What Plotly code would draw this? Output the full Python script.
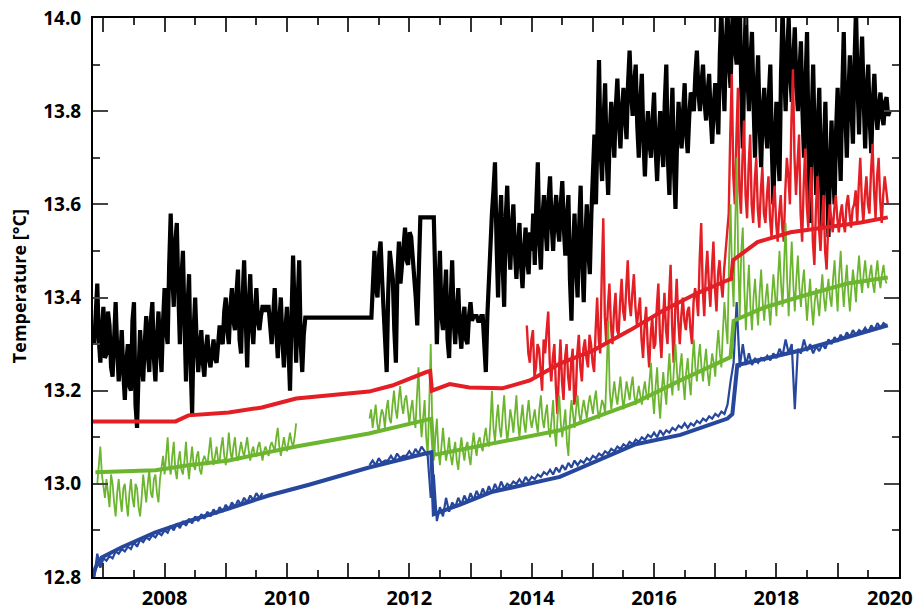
import plotly.graph_objects as go

# ---- raw records: (start year, step in years, values) ----
black_raw = [
    (2006.85, 0.025, [
        13.30, 13.36, 13.43, 13.31, 13.26, 13.33, 13.38, 13.27, 13.28, 13.37, 13.34, 13.25, 13.23, 13.31, 13.39, 13.29, 13.22, 13.27, 13.33, 13.24,
        13.18, 13.26, 13.30, 13.21, 13.20, 13.35, 13.39, 13.17, 13.12, 13.24, 13.33, 13.26, 13.22, 13.30, 13.36, 13.28, 13.24, 13.35, 13.39, 13.27,
        13.22, 13.31, 13.37, 13.29, 13.24, 13.35, 13.42, 13.33, 13.30, 13.47, 13.58, 13.45, 13.38, 13.52, 13.56, 13.41, 13.30, 13.44, 13.50, 13.35,
        13.22, 13.38, 13.45, 13.26, 13.15, 13.33, 13.40, 13.30, 13.24, 13.29, 13.33, 13.26, 13.23, 13.29, 13.32, 13.27, 13.25, 13.28, 13.31, 13.27,
        13.26, 13.30, 13.34, 13.31, 13.30, 13.37, 13.40, 13.33, 13.30, 13.38, 13.42, 13.35, 13.33, 13.41, 13.46, 13.31, 13.28, 13.40, 13.48, 13.36,
        13.25, 13.38, 13.45, 13.34, 13.30, 13.37, 13.42, 13.35, 13.33, 13.36, 13.38, 13.38, 13.37, 13.38, 13.38, 13.34, 13.30, 13.36, 13.42, 13.33,
        13.27, 13.35, 13.40, 13.31, 13.25, 13.33, 13.38, 13.29, 13.20, 13.36, 13.49, 13.37, 13.26, 13.39, 13.48, 13.30, 13.24, 13.32, 13.357]),
    (2011.38, 0.025, [
        13.357, 13.45, 13.50, 13.42, 13.40, 13.49, 13.52, 13.44, 13.38, 13.30, 13.24, 13.41, 13.50, 13.47, 13.44, 13.33, 13.26, 13.45, 13.52, 13.43,
        13.46, 13.51, 13.55, 13.48, 13.47, 13.54, 13.53, 13.49, 13.46, 13.40, 13.34, 13.45, 13.572]),
    (2012.40, 0.025, [
        13.572, 13.44, 13.30, 13.41, 13.50, 13.36, 13.33, 13.40, 13.46, 13.31, 13.27, 13.39, 13.48, 13.35, 13.30, 13.37, 13.42, 13.33, 13.29, 13.35,
        13.38, 13.31, 13.30, 13.36, 13.39, 13.35, 13.36, 13.36, 13.36, 13.35, 13.35, 13.36, 13.36, 13.30, 13.24, 13.36, 13.45, 13.52, 13.58, 13.63,
        13.69, 13.52, 13.40, 13.55, 13.62, 13.47, 13.38, 13.57, 13.64, 13.52, 13.46, 13.55, 13.60, 13.50, 13.44, 13.51, 13.56, 13.47, 13.42, 13.50,
        13.55, 13.48, 13.45, 13.54, 13.50, 13.58, 13.47, 13.60, 13.69, 13.52, 13.46, 13.57, 13.62, 13.55, 13.50, 13.61, 13.66, 13.56, 13.50, 13.58,
        13.62, 13.55, 13.52, 13.60, 13.65, 13.55, 13.49, 13.57, 13.62, 13.44, 13.35, 13.50, 13.58, 13.47, 13.40, 13.55, 13.64, 13.48, 13.39, 13.52,
        13.60, 13.50, 13.45, 13.58, 13.66, 13.75, 13.60, 13.80, 13.91, 13.72, 13.65, 13.78, 13.86, 13.70, 13.62, 13.75, 13.82, 13.76, 13.70, 13.81,
        13.87, 13.78, 13.72, 13.80, 13.85, 13.79, 13.74, 13.86, 13.93, 13.84, 13.79, 13.86, 13.90, 13.77, 13.70, 13.82, 13.88, 13.74, 13.66, 13.75,
        13.80, 13.73, 13.70, 13.78, 13.84, 13.72, 13.65, 13.74, 13.80, 13.73, 13.68, 13.82, 13.90, 13.70, 13.62, 13.76, 13.85, 13.68, 13.59, 13.73,
        13.82, 13.76, 13.72, 13.80, 13.86, 13.75, 13.71, 13.79, 13.84, 13.83, 13.80, 13.88, 13.93, 13.84, 13.80, 13.86, 13.90, 13.82, 13.78, 13.84,
        13.88, 13.79, 13.73, 13.81, 13.86, 13.80, 13.75, 13.92, 14.02, 13.88, 13.80, 13.95, 14.02, 13.90, 13.85, 13.98, 14.05, 13.93, 13.90, 13.99,
        14.05, 13.85, 13.72, 13.90, 14.03, 13.88, 13.80, 13.91, 13.97, 13.82, 13.70, 13.84, 13.92, 13.77, 13.68, 13.80, 13.85, 13.76, 13.72, 13.83,
        13.90, 13.72, 13.60, 13.74, 13.82, 13.71, 13.65, 13.88, 14.02, 13.90, 13.80, 13.92, 14.00, 13.88, 13.82, 13.91, 13.98, 13.86, 13.80, 13.88,
        13.95, 13.80, 13.70, 13.86, 13.97, 13.72, 13.56, 13.78, 13.90, 13.73, 13.62, 13.77, 13.85, 13.68, 13.55, 13.72, 13.82, 13.66, 13.53, 13.67,
        13.78, 13.68, 13.60, 13.76, 13.85, 13.74, 13.65, 13.84, 13.97, 13.80, 13.70, 13.83, 13.92, 13.81, 13.73, 13.90, 14.02, 13.86, 13.75, 13.88,
        13.96, 13.83, 13.72, 13.84, 13.90, 13.78, 13.71, 13.82, 13.88, 13.80, 13.76, 13.81, 13.84, 13.79, 13.77, 13.82, 13.83, 13.79, 13.80]),
]

red_raw = [
    (2013.92, 0.025, [
        13.34, 13.28, 13.26, 13.31, 13.33, 13.23, 13.25, 13.30, 13.29, 13.24, 13.20, 13.31, 13.28, 13.33, 13.37, 13.26, 13.22, 13.27, 13.30, 13.21,
        13.15, 13.24, 13.31, 13.22, 13.18, 13.27, 13.30, 13.23, 13.20, 13.26, 13.29, 13.17, 13.19, 13.28, 13.32, 13.25, 13.22, 13.29, 13.31, 13.27,
        13.25, 13.32, 13.30, 13.26, 13.24, 13.33, 13.40, 13.31, 13.28, 13.45, 13.57, 13.36, 13.30, 13.38, 13.43, 13.34, 13.30, 13.37, 13.41, 13.33,
        13.32, 13.39, 13.44, 13.37, 13.35, 13.42, 13.48, 13.39, 13.36, 13.41, 13.45, 13.38, 13.34, 13.37, 13.40, 13.31, 13.27, 13.34, 13.38, 13.30,
        13.25, 13.32, 13.36, 13.29, 13.30, 13.38, 13.43, 13.32, 13.27, 13.35, 13.41, 13.33, 13.30, 13.40, 13.47, 13.34, 13.26, 13.37, 13.44, 13.35,
        13.30, 13.36, 13.40, 13.35, 13.33, 13.37, 13.38, 13.33, 13.30, 13.39, 13.42, 13.40, 13.36, 13.48, 13.56, 13.42, 13.36, 13.45, 13.50, 13.43,
        13.38, 13.46, 13.52, 13.42, 13.37, 13.45, 13.48, 13.43, 13.40, 13.46, 13.50, 13.54, 13.58, 13.75, 13.88, 13.66, 13.60, 13.74, 13.85, 13.63,
        13.58, 13.70, 13.78, 13.62, 13.57, 13.68, 13.75, 13.60, 13.56, 13.65, 13.70, 13.59, 13.55, 13.63, 13.68, 13.58, 13.56, 13.62, 13.66, 13.57,
        13.53, 13.60, 13.64, 13.56, 13.52, 13.58, 13.62, 13.55, 13.52, 13.63, 13.70, 13.66, 13.60, 13.78, 13.89, 13.70, 13.62, 13.69, 13.75, 13.58,
        13.52, 13.64, 13.72, 13.60, 13.55, 13.63, 13.68, 13.52, 13.47, 13.59, 13.66, 13.55, 13.50, 13.57, 13.62, 13.50, 13.46, 13.55, 13.60, 13.57,
        13.54, 13.59, 13.62, 13.57, 13.54, 13.58, 13.60, 13.56, 13.54, 13.60, 13.62, 13.58, 13.55, 13.59, 13.60, 13.63, 13.56, 13.64, 13.70, 13.61,
        13.56, 13.62, 13.66, 13.60, 13.58, 13.67, 13.73, 13.63, 13.57, 13.66, 13.70, 13.61, 13.56, 13.62, 13.66, 13.63, 13.60]),
]

green_raw = [
    (2006.90, 0.025, [
        13.00, 13.05, 13.08, 13.02, 12.99, 12.97, 13.01, 12.98, 12.95, 13.02, 13.00, 12.96, 12.93, 12.98, 13.01, 12.97, 12.94, 12.99, 13.00, 12.96,
        12.93, 12.98, 13.01, 12.97, 12.95, 13.00, 12.99, 12.95, 12.93, 12.97, 13.02, 12.99, 12.96, 13.00, 13.03, 12.98, 12.97, 13.01, 13.02, 12.98,
        12.96, 13.01, 13.04, 13.06, 13.02, 13.07, 13.10, 13.04, 13.02, 13.06, 13.09, 13.03, 13.01, 13.05, 13.07, 13.03, 13.02, 13.05, 13.09, 13.04,
        13.01, 13.05, 13.08, 13.04, 13.03, 13.06, 13.07, 13.03, 13.02, 13.05, 13.06, 13.05, 13.04, 13.07, 13.10, 13.06, 13.04, 13.06, 13.08, 13.05,
        13.05, 13.08, 13.10, 13.06, 13.04, 13.07, 13.11, 13.07, 13.05, 13.08, 13.10, 13.06, 13.05, 13.07, 13.09, 13.07, 13.06, 13.08, 13.10, 13.07,
        13.05, 13.07, 13.08, 13.06, 13.06, 13.08, 13.09, 13.07, 13.05, 13.07, 13.08, 13.07, 13.06, 13.08, 13.09, 13.08, 13.07, 13.10, 13.12, 13.08,
        13.06, 13.08, 13.10, 13.08, 13.07, 13.09, 13.11, 13.09, 13.08, 13.10, 13.13]),
    (2011.35, 0.025, [
        13.14, 13.16, 13.12, 13.15, 13.17, 13.13, 13.11, 13.14, 13.16, 13.15, 13.12, 13.16, 13.18, 13.14, 13.13, 13.17, 13.20, 13.16, 13.14, 13.18,
        13.21, 13.17, 13.15, 13.18, 13.19, 13.16, 13.13, 13.16, 13.18, 13.14, 13.12, 13.19, 13.25, 13.15, 13.10, 13.14, 13.18, 13.10, 13.06, 13.17,
        13.30, 13.12, 13.05, 13.10, 13.14, 13.07, 13.04, 13.08, 13.12, 13.08, 13.05, 13.07, 13.10, 13.06, 13.04, 13.07, 13.09, 13.05, 13.03, 13.07,
        13.10, 13.07, 13.05, 13.08, 13.09, 13.06, 13.04, 13.08, 13.11, 13.08, 13.06, 13.09, 13.10, 13.08, 13.07, 13.10, 13.12, 13.09, 13.08, 13.13,
        13.20, 13.12, 13.09, 13.14, 13.17, 13.12, 13.10, 13.15, 13.19, 13.13, 13.09, 13.12, 13.16, 13.14, 13.11, 13.15, 13.19, 13.13, 13.10, 13.14,
        13.17, 13.13, 13.11, 13.15, 13.18, 13.14, 13.12, 13.14, 13.16, 13.13, 13.11, 13.16, 13.19, 13.14, 13.12, 13.15, 13.17, 13.12, 13.10, 13.14,
        13.18, 13.11, 13.08, 13.15, 13.19, 13.13, 13.10, 13.13, 13.16, 13.09, 13.06, 13.14, 13.18, 13.15, 13.12, 13.16, 13.19, 13.15, 13.13, 13.16,
        13.18, 13.16, 13.14, 13.17, 13.19, 13.17, 13.15, 13.18, 13.20, 13.16, 13.14, 13.16, 13.18, 13.17, 13.15, 13.24, 13.35, 13.20, 13.16, 13.19,
        13.22, 13.19, 13.17, 13.20, 13.23, 13.19, 13.16, 13.19, 13.22, 13.20, 13.18, 13.21, 13.23, 13.19, 13.17, 13.19, 13.21, 13.19, 13.17, 13.20,
        13.22, 13.19, 13.18, 13.22, 13.26, 13.19, 13.15, 13.21, 13.25, 13.18, 13.14, 13.20, 13.24, 13.20, 13.17, 13.23, 13.28, 13.22, 13.19, 13.25,
        13.30, 13.24, 13.20, 13.25, 13.28, 13.22, 13.18, 13.24, 13.27, 13.22, 13.19, 13.26, 13.31, 13.25, 13.22, 13.27, 13.30, 13.25, 13.22, 13.26,
        13.29, 13.24, 13.21, 13.25, 13.28, 13.26, 13.23, 13.29, 13.33, 13.28, 13.25, 13.33, 13.39, 13.34, 13.30, 13.48, 13.60, 13.45, 13.38, 13.55,
        13.70, 13.48, 13.36, 13.50, 13.55, 13.42, 13.33, 13.41, 13.47, 13.38, 13.33, 13.40, 13.44, 13.38, 13.34, 13.41, 13.46, 13.39, 13.35, 13.40,
        13.43, 13.38, 13.34, 13.40, 13.45, 13.41, 13.36, 13.44, 13.50, 13.43, 13.38, 13.47, 13.56, 13.44, 13.36, 13.45, 13.52, 13.43, 13.37, 13.44,
        13.49, 13.42, 13.38, 13.43, 13.46, 13.40, 13.35, 13.40, 13.44, 13.38, 13.34, 13.39, 13.42, 13.39, 13.36, 13.41, 13.45, 13.40, 13.37, 13.41,
        13.44, 13.40, 13.38, 13.44, 13.48, 13.42, 13.37, 13.45, 13.50, 13.43, 13.38, 13.43, 13.47, 13.41, 13.37, 13.42, 13.46, 13.43, 13.39, 13.45,
        13.49, 13.44, 13.41, 13.45, 13.48, 13.44, 13.42, 13.45, 13.47, 13.43, 13.41, 13.45, 13.48, 13.44, 13.42, 13.45, 13.47, 13.44, 13.43]),
]

blue_raw = [
    (2006.85, 0.05, [
        12.800, 12.850, 12.820, 12.840, 12.835, 12.845, 12.840, 12.855, 12.850, 12.860,
        12.855, 12.865, 12.860, 12.875, 12.865, 12.880, 12.875, 12.885, 12.880, 12.890,
        12.885, 12.895, 12.890, 12.900, 12.895, 12.910, 12.900, 12.915, 12.905, 12.920,
        12.910, 12.925, 12.915, 12.930, 12.920, 12.935, 12.925, 12.940, 12.930, 12.945,
        12.935, 12.950, 12.940, 12.955, 12.945, 12.960, 12.950, 12.965, 12.955, 12.970,
        12.960, 12.975, 12.965, 12.980, 12.970, 12.980]),
    (2011.35, 0.05, [
        13.040, 13.050, 13.040, 13.055, 13.045, 13.050, 13.050, 13.060, 13.050, 13.065,
        13.055, 13.060, 13.060, 13.070, 13.060, 13.075, 13.065, 13.080, 13.070, 13.060,
        12.970, 13.020, 12.920, 12.950, 12.930, 12.970, 12.940, 12.960, 12.950, 12.970,
        12.955, 12.975, 12.960, 12.980, 12.965, 12.985, 12.970, 12.990, 12.975, 12.995,
        12.980, 13.000, 12.985, 13.005, 12.990, 13.000, 12.995, 13.005, 13.000, 13.010,
        13.000, 13.015, 13.005, 13.015, 13.010, 13.020, 13.015, 13.025, 13.020, 13.030,
        13.020, 13.035, 13.025, 13.040, 13.030, 13.045, 13.035, 13.050, 13.040, 13.050,
        13.045, 13.055, 13.050, 13.060, 13.055, 13.065, 13.060, 13.070, 13.065, 13.075,
        13.070, 13.080, 13.075, 13.085, 13.080, 13.090, 13.085, 13.095, 13.090, 13.100,
        13.095, 13.105, 13.100, 13.110, 13.100, 13.115, 13.105, 13.115, 13.110, 13.120,
        13.115, 13.125, 13.120, 13.130, 13.120, 13.130, 13.125, 13.135, 13.130, 13.140,
        13.135, 13.145, 13.140, 13.150, 13.145, 13.155, 13.150, 13.170, 13.220, 13.260,
        13.390, 13.250, 13.300, 13.255, 13.280, 13.255, 13.270, 13.260, 13.270, 13.265,
        13.275, 13.265, 13.280, 13.270, 13.290, 13.275, 13.310, 13.280, 13.300, 13.160,
        13.290, 13.280, 13.310, 13.285, 13.300, 13.280, 13.295, 13.285, 13.300, 13.290,
        13.310, 13.300, 13.315, 13.305, 13.320, 13.310, 13.325, 13.315, 13.330, 13.320,
        13.330, 13.325, 13.335, 13.325, 13.340, 13.330, 13.345, 13.335, 13.345, 13.340]),
]

# ---- long-term trend curves (year, temperature) ----
red_trend_t = [2006.83, 2008.18, 2008.39, 2009.05, 2009.59, 2010.15, 2011.34, 2011.72,
               2012.28, 2012.34, 2012.37, 2012.66, 2012.98, 2013.52, 2013.97, 2014.46,
               2015.00, 2015.61, 2016.15, 2016.70, 2017.20, 2017.26, 2017.29, 2017.69,
               2018.23, 2019.38, 2019.82]
red_trend_v = [13.134, 13.134, 13.147, 13.153, 13.164, 13.183, 13.198, 13.211,
               13.240, 13.242, 13.200, 13.214, 13.207, 13.205, 13.222, 13.258,
               13.286, 13.330, 13.372, 13.409, 13.437, 13.440, 13.480, 13.519,
               13.540, 13.561, 13.572]

green_trend_t = [2006.87, 2007.85, 2008.39, 2009.05, 2009.70, 2010.15, 2011.34, 2012.16,
                 2012.36, 2012.40, 2013.36, 2014.46, 2015.70, 2016.43, 2017.25, 2017.30,
                 2017.79, 2018.34, 2019.16, 2019.82]
green_trend_v = [13.025, 13.029, 13.040, 13.050, 13.068, 13.080, 13.108, 13.134,
                 13.140, 13.062, 13.087, 13.115, 13.175, 13.222, 13.272, 13.350,
                 13.378, 13.400, 13.430, 13.443]

blue_trend_t = [2006.83, 2006.87, 2006.97, 2007.30, 2007.85, 2008.39, 2009.05, 2009.70,
                2010.36, 2011.34, 2012.16, 2012.36, 2012.40, 2012.82, 2013.36, 2014.46,
                2015.70, 2016.43, 2017.20, 2017.28, 2017.36, 2017.80, 2018.35, 2018.90,
                2019.82]
blue_trend_v = [12.800, 12.820, 12.842, 12.864, 12.896, 12.920, 12.947, 12.975,
                12.998, 13.035, 13.062, 13.068, 12.935, 12.955, 12.983, 13.015,
                13.085, 13.105, 13.140, 13.150, 13.255, 13.268, 13.285, 13.305,
                13.340]

YEAR_TICKS = list(range(2007, 2021))
# the last label sits at the right edge and is placed separately so it stays on the page
YEAR_LABELS = [str(y) if (y % 2 == 0 and y < 2020) else "" for y in YEAR_TICKS]
EDGE_LABEL = "2020"

BLACK = "#000000"
RED = "#e31e24"
GREEN = "#6cb52f"
BLUE = "#26479c"


def expand(segments, connect):
    xs, ys = [], []
    for start, step, vals in segments:
        if xs and not connect:
            xs.append(None)
            ys.append(None)
        xs += [start + step * i for i in range(len(vals))]
        ys += vals
    return xs, ys


fig = go.Figure()


def add_line(x, y, color, width):
    fig.add_trace(go.Scatter(x=x, y=y, mode="lines", hoverinfo="skip",
                             line=dict(color=color, width=width)))


bx, by = expand(black_raw, connect=True)
add_line(bx, by, BLACK, 4.2)
rx, ry = expand(red_raw, connect=False)
add_line(rx, ry, RED, 2.4)
gx, gy = expand(green_raw, connect=False)
add_line(gx, gy, GREEN, 1.8)
ux, uy = expand(blue_raw, connect=False)
add_line(ux, uy, BLUE, 2.2)

add_line(red_trend_t, red_trend_v, RED, 4)
add_line(green_trend_t, green_trend_v, GREEN, 4)
add_line(blue_trend_t, blue_trend_v, BLUE, 4)

tick_font = dict(family="Open Sans", size=20, color="black", weight="bold")

fig.update_xaxes(
    range=[2006.83, 2020.003], tickmode="array", tickvals=YEAR_TICKS, ticktext=YEAR_LABELS,
    ticks="inside", ticklen=14, tickwidth=2, tickcolor="#333",
    showline=True, linecolor="black", linewidth=2, mirror="ticks", automargin=False,
    showgrid=False, zeroline=False, tickfont=tick_font, ticklabelstandoff=2,
    minor=dict(dtick=0.5, tick0=2006.5, ticks="inside", ticklen=7, tickwidth=2,
               tickcolor="#333", showgrid=False),
)
fig.update_yaxes(
    range=[12.8, 14.0], dtick=0.2, tick0=12.8, tickformat=".1f",
    ticks="inside", ticklen=15, tickwidth=2, tickcolor="#444",
    showline=True, linecolor="black", linewidth=2, mirror="ticks", automargin=False,
    showgrid=False, zeroline=False, tickfont=dict(tick_font, size=19), ticklabelstandoff=6,
    minor=dict(dtick=0.1, tick0=12.8, ticks="inside", ticklen=7, tickwidth=2,
               tickcolor="#444", showgrid=False),
)

fig.add_annotation(
    text=EDGE_LABEL, showarrow=False, xref="paper", yref="paper",
    x=1.0199, y=-0.036, xanchor="right", yanchor="middle",
    font=tick_font,
)

fig.add_annotation(
    text="Temperature [°C]", textangle=-90, showarrow=False,
    xref="paper", yref="paper", x=-0.092, y=0.52, xanchor="center", yanchor="middle",
    font=dict(family="Open Sans", size=18, color="black", weight="bold"),
)

fig.update_layout(
    width=916, height=610, margin=dict(l=93, r=17, t=18, b=33),
    plot_bgcolor="white", paper_bgcolor="white", showlegend=False,
)

fig.write_html("out.html")
